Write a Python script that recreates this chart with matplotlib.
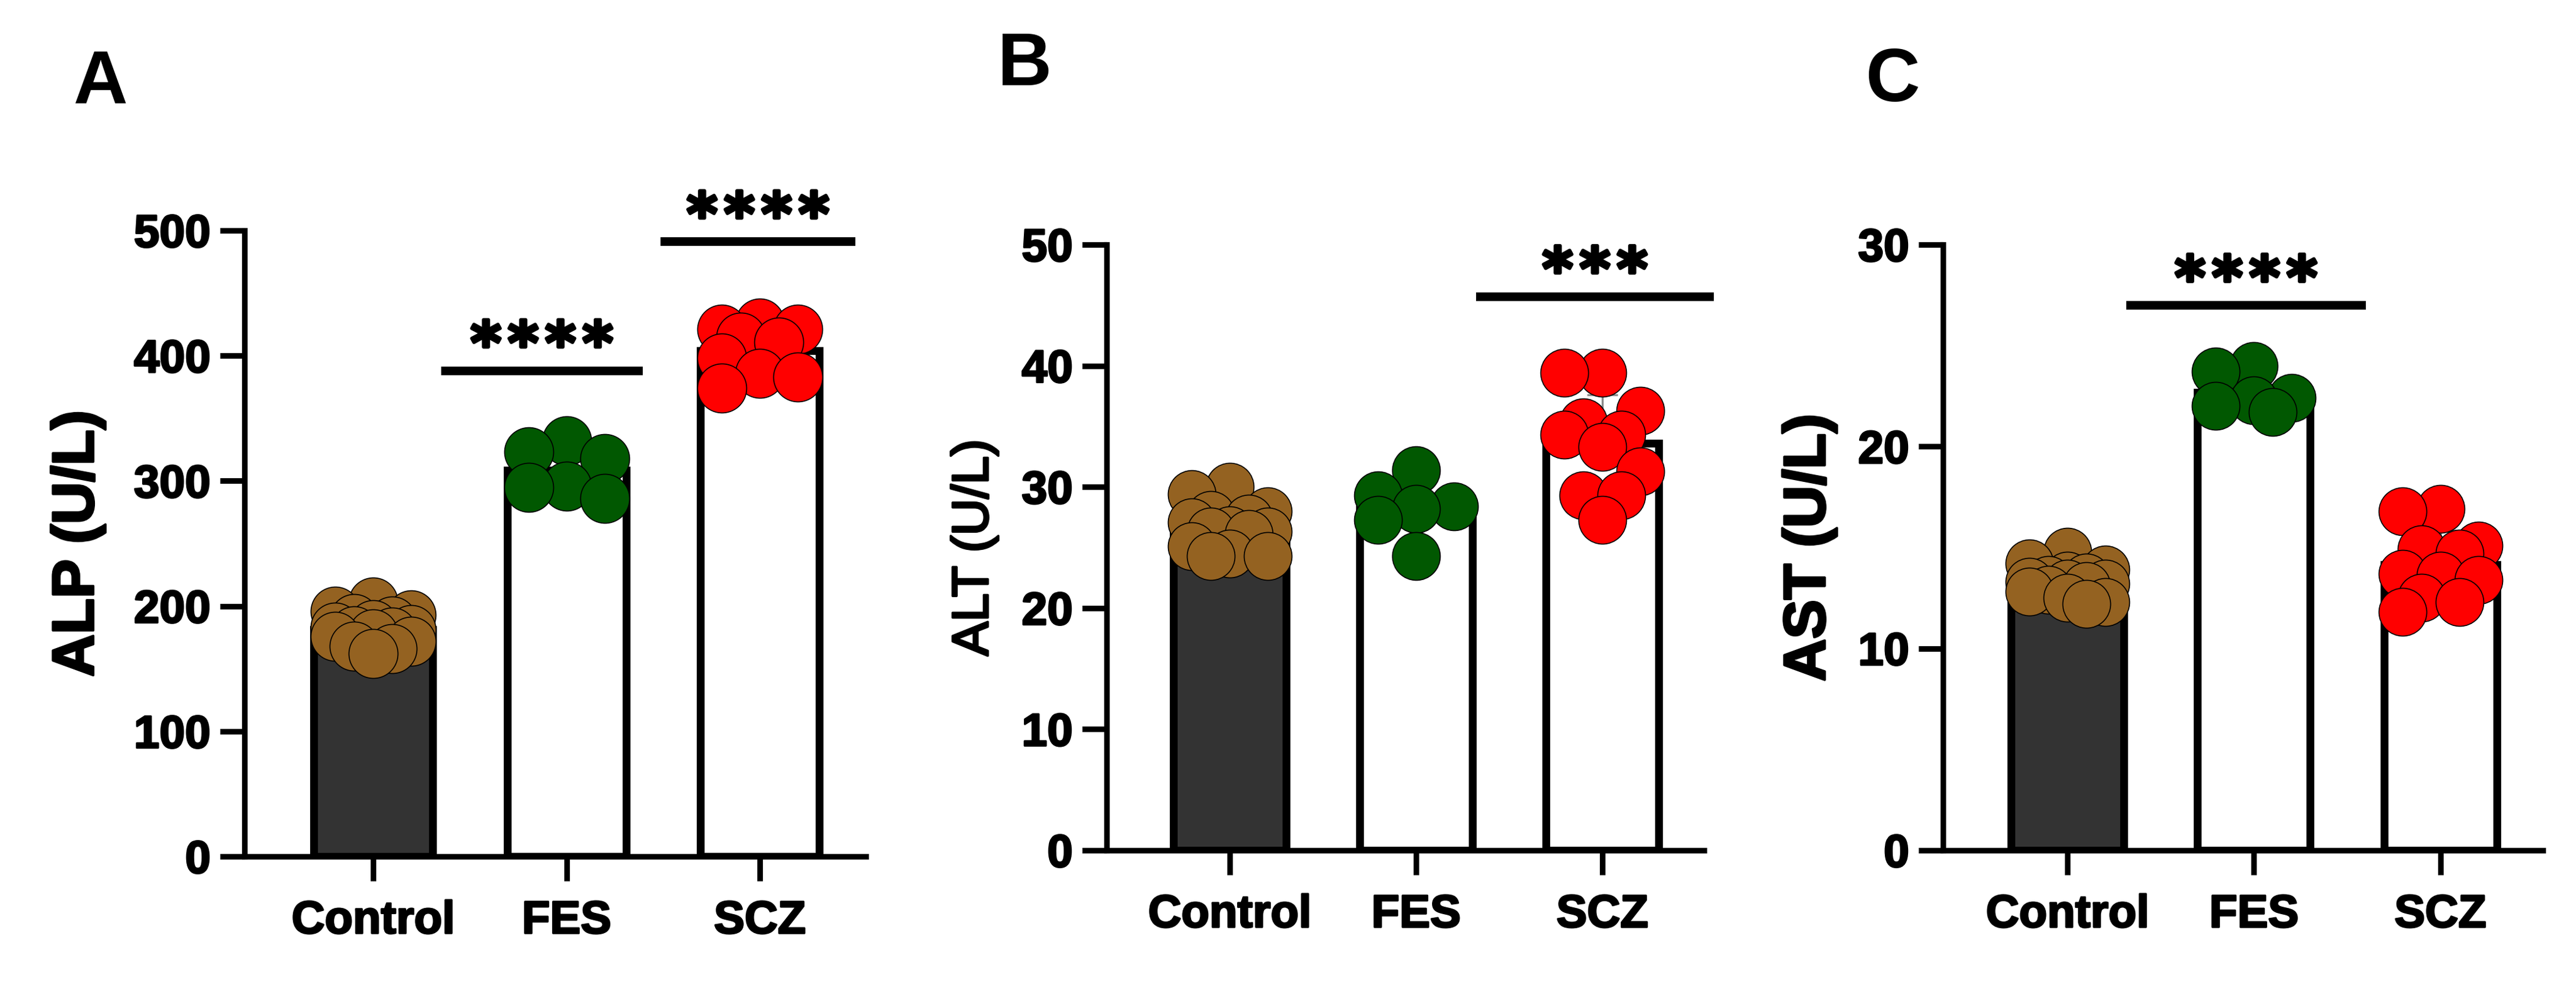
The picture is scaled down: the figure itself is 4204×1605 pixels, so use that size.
import numpy as np
import matplotlib
matplotlib.use("Agg")
import matplotlib.pyplot as plt
import matplotlib.patheffects as pe

# groups on the x axis
groups = ["Control", "FES", "SCZ"]

# individual values (U/L)
alp_control = [203, 196, 193, 190, 188, 185, 183, 181, 180, 179, 178, 176, 172, 168, 166, 162]
alp_fes = [332, 323, 318, 296, 295, 286]
alp_scz = [426, 421, 421, 415, 411, 398, 386, 383, 374]

alt_control = [30.0, 29.4, 28.0, 27.7, 27.4, 27.1, 26.4, 26.3, 26.3, 26.1, 25.1, 24.5, 24.3, 24.3]
alt_fes = [31.4, 29.3, 28.4, 28.2, 27.3, 24.3]
alt_scz = [39.4, 39.4, 36.3, 35.3, 34.3, 34.3, 33.3, 31.3, 29.3, 29.3, 27.3]

ast_control = [14.8, 14.2, 13.9, 13.6, 13.5, 13.4, 13.3, 13.2, 13.2, 13.1, 12.9, 12.8, 12.5, 12.3, 12.2]
ast_fes = [24.0, 23.7, 22.4, 22.3, 22.0, 21.7]
ast_scz = [16.9, 16.8, 15.1, 14.9, 14.7, 13.7, 13.6, 13.4, 12.5, 12.3, 11.8]

# significance bars: (x start, x end, y, label)
alp_sig = [(0.35, 1.395, 388, "****"), (1.487, 2.494, 491, "****")]
alt_sig = [(1.322, 2.599, 45.7, "***")]
ast_sig = [(0.316, 1.599, 27.0, "****")]

dot_colors = ["#946221", "#015801", "#ff0000"]
bar_fill = ["#333333", "white", "white"]

plt.rcParams["font.family"] = ["Liberation Sans", "DejaVu Sans"]
plt.rcParams["font.weight"] = "bold"

W, H, DPI = 4204, 1605, 300
fig = plt.figure(figsize=(W / DPI, H / DPI), dpi=DPI)


def thick(lw):
    return [pe.withStroke(linewidth=lw, foreground="black")]


def swarm(ax, xc, vals, d_px, step_px, nsteps):
    # simple beeswarm on a grid, in pixel space
    pts = ax.transData.transform([(xc, v) for v in vals])
    ys = pts[:, 1]
    ppx = ax.transData.transform([(1, 0)])[0, 0] - ax.transData.transform([(0, 0)])[0, 0]
    order = np.argsort(-np.asarray(vals), kind="stable")
    placed = []
    offs = np.zeros(len(vals))
    flip = 1
    for i in order:
        cands = [0.0]
        for k in range(1, nsteps + 1):
            cands += [flip * k * step_px, -flip * k * step_px]
        best, bestd = 0.0, -1
        for c in cands:
            if placed:
                md = min(np.hypot(c - px, ys[i] - py) for px, py in placed)
            else:
                md = np.inf
            if md >= d_px * 0.97:
                best = c
                break
            if md > bestd:
                bestd, best = md, c
        offs[i] = best
        placed.append((best, ys[i]))
        flip = -flip
    return xc + offs / ppx


def panel(rect, data, ylim, yticks, xlim, width, ylabel, lab_kw, lab_fx, lab_x, sigs,
          letter, letter_xy, d_px):
    ax = fig.add_axes(rect)
    ax.set_xlim(*xlim)
    ax.set_ylim(*ylim)
    for s in ["top", "right"]:
        ax.spines[s].set_visible(False)
    for s in ["left", "bottom"]:
        ax.spines[s].set_linewidth(2.2)
    ax.set_yticks(yticks)
    ax.set_xticks(range(len(groups)))
    ax.set_xticklabels(groups)
    ax.tick_params(axis="both", length=9.6, width=2.2, labelsize=18)
    ax.tick_params(axis="y", pad=3.6)
    ax.tick_params(axis="x", pad=7.5)
    for t in ax.get_xticklabels() + ax.get_yticklabels():
        t.set_path_effects(thick(0.7))

    means = [np.mean(v) for v in data]
    sds = [np.std(v, ddof=1) for v in data]
    ax.bar(range(3), means, width=width, color=bar_fill, edgecolor="black",
           linewidth=3.05, zorder=1)
    for i in range(3):
        ax.errorbar(i, means[i], yerr=[[0], [sds[i]]], fmt="none", ecolor="#8c8c8c",
                    elinewidth=0.8, capsize=6, capthick=0.8, zorder=2)
        xs = swarm(ax, i, data[i], d_px, 31, 2)
        ax.scatter(xs, data[i], s=(d_px / DPI * 72) ** 2, color=dot_colors[i],
                   edgecolor="black", linewidth=0.4, zorder=3, clip_on=False)

    for x0, x1, y, txt in sigs:
        ax.plot([x0, x1], [y, y], color="black", linewidth=3.4, solid_capstyle="butt",
                clip_on=False, zorder=4)
        n = len(txt)
        for k in range(n):
            star = ax.annotate("*", xy=((x0 + x1) / 2, y),
                               xytext=((k - (n - 1) / 2) * 14.6, 2.9),
                               textcoords="offset points", ha="center", va="baseline",
                               fontsize=23, fontweight="bold", family="DejaVu Sans",
                               annotation_clip=False)
            star.set_path_effects(thick(1.3))

    ax.set_ylabel(ylabel, **lab_kw)
    ax.yaxis.set_label_coords(lab_x, 0.5)
    ax.yaxis.label.set_va("center")
    ax.yaxis.label.set_path_effects(thick(lab_fx))
    fig.text(letter_xy[0] / W, 1 - letter_xy[1] / H, letter, fontsize=29.5,
             fontweight="bold", ha="left", va="baseline")
    return ax


panel([399 / W, 1 - 1397 / H, 1014 / W, 1021 / H],
      [alp_control, alp_fes, alp_scz], (0, 500), range(0, 501, 100),
      (-0.666, 2.548), 0.615, "ALP (U/L)", dict(fontsize=23, fontweight="bold"), 0.9, -0.268,
      alp_sig, "A", (120, 169), 80)

panel([1806 / W, 1 - 1387 / H, 975 / W, 988 / H],
      [alt_control, alt_fes, alt_scz], (0, 50), range(0, 51, 10),
      (-0.661, 2.546), 0.605, "ALT (U/L)", dict(fontsize=20, fontweight="normal"), 0.9, -0.2215,
      alt_sig, "B", (1628, 139), 78)

panel([3171 / W, 1 - 1387 / H, 979 / W, 988 / H],
      [ast_control, ast_fes, ast_scz], (0, 30), range(0, 31, 10),
      (-0.668, 2.55), 0.605, "AST (U/L)", dict(fontsize=23, fontweight="bold"), 0.9, -0.2227,
      ast_sig, "C", (3045, 165), 78)

fig.savefig("out.png", dpi=DPI)
